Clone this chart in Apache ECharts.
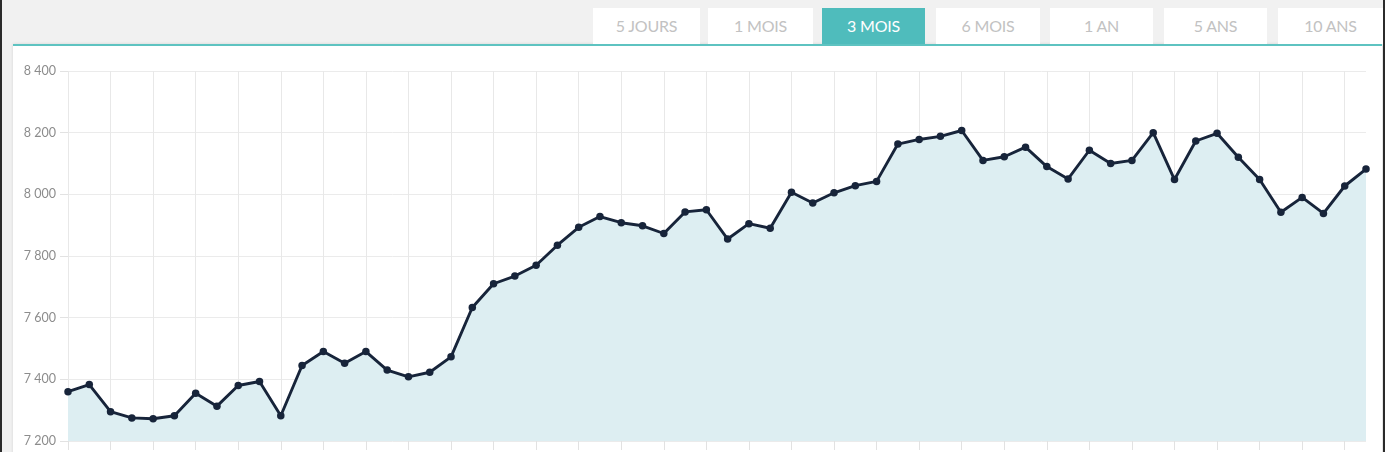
<!DOCTYPE html>
<html>
<head>
<meta charset="utf-8">
<script src="https://cdn.jsdelivr.net/npm/echarts@6/dist/echarts.min.js"></script>
<style>
  html, body { margin:0; padding:0; width:1385px; height:452px; overflow:hidden; background:#f1f1f1; font-family: Lato, 'Open Sans', sans-serif; }
  #edgeL { position:absolute; left:0; top:0; width:2px; height:452px; background:#2b2b2b; }
  #edgeR { position:absolute; left:1383px; top:0; width:2px; height:452px; background:#2b2b2b; }
  #panel { position:absolute; left:13px; top:44px; width:1369px; height:420px; background:#fff; border-top:2px solid #5ec3c1; box-shadow: 0 0 3px rgba(0,0,0,0.12); }
  .btn { position:absolute; top:8px; height:36px; line-height:36px; background:#fff; color:#c2c2c2; font-size:16px; text-align:center; letter-spacing:-0.2px; }
  .btn.active { background:#4fbcbc; color:#fff; }
  #chart { position:absolute; left:0; top:0; width:1385px; height:452px; }
</style>
</head>
<body>
<div id="edgeL"></div>
<div id="edgeR"></div>
<div id="panel"></div>
<div id="buttons"></div>
<div id="chart"></div>
<script>
// ---- data ----
const rangeButtons = ['5 JOURS', '1 MOIS', '3 MOIS', '6 MOIS', '1 AN', '5 ANS', '10 ANS'];
const activeButton = '3 MOIS';
const categories = ['1','2','3','4','5','6','7','8','9','10','11','12','13','14','15','16','17','18','19','20',
  '21','22','23','24','25','26','27','28','29','30','31','32','33','34','35','36','37','38','39','40',
  '41','42','43','44','45','46','47','48','49','50','51','52','53','54','55','56','57','58','59','60','61','62'];
const values = [7360, 7383, 7295, 7275, 7272, 7282, 7355, 7313, 7380, 7393,
  7282, 7445, 7490, 7452, 7490, 7430, 7408, 7423, 7473, 7633,
  7710, 7735, 7770, 7835, 7893, 7928, 7908, 7898, 7873, 7943,
  7950, 7855, 7905, 7890, 8007, 7972, 8005, 8028, 8042, 8163,
  8178, 8188, 8207, 8110, 8122, 8153, 8090, 8050, 8143, 8100,
  8110, 8200, 8048, 8173, 8198, 8120, 8048, 7942, 7990, 7938,
  8027, 8082];
const yMin = 7200, yMax = 8400, yStep = 200;

// ---- buttons (page chrome) ----
const btnLefts = [593, 708, 822, 936, 1050, 1164, 1278];
const btnWidths = [107, 105, 103, 104, 103, 103, 105];
const bc = document.getElementById('buttons');
rangeButtons.forEach((t, i) => {
  const d = document.createElement('div');
  d.className = 'btn' + (t === activeButton ? ' active' : '');
  d.style.left = btnLefts[i] + 'px';
  d.style.width = btnWidths[i] + 'px';
  d.textContent = t;
  bc.appendChild(d);
});

// ---- chart ----
const chart = echarts.init(document.getElementById('chart'), null, { renderer: 'canvas' });
const everyOther = (i) => i % 2 === 0;
chart.setOption({
  animation: false,
  grid: { left: 68, right: 19, top: 71, bottom: 11, containLabel: false },
  xAxis: {
    type: 'category',
    data: categories,
    boundaryGap: false,
    axisLine: { show: false },
    axisLabel: { show: false },
    axisTick: { show: true, interval: everyOther, length: 9, lineStyle: { color: '#e2e2e2', width: 1 } },
    splitLine: { show: true, interval: everyOther, lineStyle: { color: '#e8e8e8', width: 1 } }
  },
  yAxis: {
    type: 'value',
    min: yMin, max: yMax, interval: yStep,
    axisLine: { show: false },
    axisTick: { show: true, length: 8, lineStyle: { color: '#e2e2e2' } },
    axisLabel: {
      margin: 12,
      color: '#8c8c8c',
      fontSize: 12.5,
      fontFamily: 'Lato',
      formatter: (v) => String(v).replace(/\B(?=(\d{3})+(?!\d))/g, ' ')
    },
    splitLine: { show: true, lineStyle: { color: '#ebebeb', width: 1 } }
  },
  series: [{
    type: 'line',
    data: values,
    symbol: 'circle',
    symbolSize: 7.5,
    showSymbol: true,
    lineStyle: { color: '#17243a', width: 2.9 },
    itemStyle: { color: '#17243a' },
    areaStyle: { color: '#ddeef2', opacity: 1, origin: 'start' },
    z: 3
  }]
});
</script>
</body>
</html>
